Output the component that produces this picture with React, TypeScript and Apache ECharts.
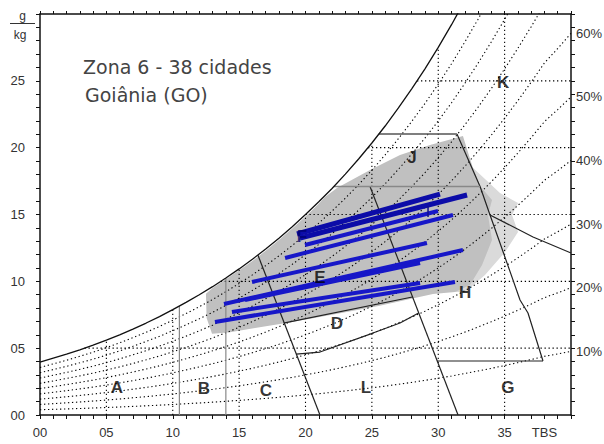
import React, { useEffect, useRef } from 'react';
import * as echarts from 'echarts';

// Saturation humidity ratio (g/kg), by dry-bulb temperature (°C)
const SAT_T = [0,1,2,3,4,5,6,7,8,9,10,11,12,13,14,15,16,17,18,19,20,21,22,23,24,25,26,27,28,29,30,31,32,33,34,35,36,37,38,39,40];
const SAT_W = [3.95,4.25,4.55,4.88,5.22,5.6,6.0,6.43,6.88,7.36,7.88,8.43,9.0,9.6,10.25,10.93,11.65,12.42,13.23,14.09,15.0,15.95,16.95,18.02,19.15,20.35,21.62,22.97,24.4,25.9,27.5,29.2,31.0,32.9,34.9,37.0,39.2,41.5,43.9,45.7,47.6];

const RH_LEVELS = [10,20,30,40,50,60,70,80,90];
const RH_LABELS = ['10%','20%','30%','40%','50%','60%'];
const GRID_T = [5,10,15,20,25,30,35];
const GRID_W = [5,10,15,20,25];

// Zone boundaries [T, W]
const LINE_C = [[16.42,11.95],[21.09,0]];
const LINE_D_TOP = [[18.35,6.88],[28.05,8.83]];
const LINE_D_L = [[19.3,4.56],[21.09,4.71],[25.08,6.13],[27.12,6.88],[28.52,7.63]];
const LINE_H_LEFT = [[24.86,17.1],[31.49,0]];
const LINE_K = [[31.41,21.02],[33.15,17.1],[33.9,14.96],[34.65,12.87],[36.16,8.6],[36.76,7.63],[37.89,4.04]];
const LINE_G_TOP = [[29.92,4.04],[37.89,4.04]];
const LINE_RIGHT = [[33.9,14.96],[37.14,13.32],[40,12.12]];
const J_TOP_W = 21.02;
const J_TOP_END = 31.41;
const J_BOTTOM_W = 17.1;
const J_BOTTOM_END = 33.15;
const ZONE_A_T = 10.5;
const ZONE_B_T = 14;

// Climate data cloud (gray) and lighter streaks
const CLOUD = [[12.5,9.08],[13,9.5],[14,10.15],[15,10.82],[16,11.53],[17,12.28],[18,13.1],[19,13.95],[20,14.85],[21,15.8],[21.47,16.3],[22.37,16.98],[24.86,18.33],[27.12,19.45],[29.38,20.2],[31.86,20.87],[32.54,18.7],[33.15,17.13],[34.05,16.08],[33.75,14.96],[34.05,13.09],[33.3,11.22],[32.39,9.73],[31.26,9.2],[29.6,9.05],[28.05,8.72],[25.5,8.15],[22.6,7.62],[20.34,7.2],[18.3,6.84],[16.2,6.5],[14.31,6.2],[12.96,6.08],[12.55,7.26]];
const CLOUD_LIGHT = [[32.39,18.7],[34.65,16.61],[36.01,15.86],[35.56,14.96],[36.01,13.69],[35.03,12.19],[33.52,10.47],[32.02,9.2],[31.26,9.2],[32.39,16.08]];

// Daily climate lines (blue)
const DAY_LINES = [
  [[19.36,13.54],[30.13,16.53]],
  [[19.59,13.24],[32.17,16.46]],
  [[19.96,12.72],[29.98,15.26]],
  [[18.46,11.75],[31.11,14.96]],
  [[15.97,9.95],[29.15,12.87]],
  [[13.86,8.3],[31.86,12.34]],
  [[15.44,8.6],[28.63,11.37]],
  [[13.18,6.96],[31.26,9.95]],
  [[14.46,7.71],[28.63,9.88]],
];
const DAY_TICK = [[29.23,15.63],[29.23,14.81]];

const ZONES = [
  [5.8,2.02,'A'],[12.35,1.95,'B'],[17.02,1.8,'C'],[22.37,6.88,'D'],[21.09,10.32,'E'],
  [35.25,2.02,'G'],[32.02,9.13,'H'],[28.02,19.23,'J'],[34.88,24.91,'K'],[24.56,2.02,'L'],
];
const ZONE_F = [[19.74,13.39,'F']];

function wsAt(t: number): number {
  for (let i = 0; i < SAT_T.length - 1; i++) {
    if (t >= SAT_T[i] && t <= SAT_T[i + 1]) {
      const f = (t - SAT_T[i]) / (SAT_T[i + 1] - SAT_T[i]);
      return SAT_W[i] + f * (SAT_W[i + 1] - SAT_W[i]);
    }
  }
  return SAT_W[SAT_W.length - 1];
}
function tAt(w: number): number {
  for (let i = 0; i < SAT_W.length - 1; i++) {
    if (w >= SAT_W[i] && w <= SAT_W[i + 1]) {
      const f = (w - SAT_W[i]) / (SAT_W[i + 1] - SAT_W[i]);
      return SAT_T[i] + f * (SAT_T[i + 1] - SAT_T[i]);
    }
  }
  return 0;
}

const pad2 = (v: number) => (v < 10 ? '0' + v : '' + v);
const FONT = 'Liberation Sans';

function line(data: any[], color: string, width: number, type: any, z: number, extra: any = {}) {
  return {
    type: 'line', data, symbol: 'none', showSymbol: false, silent: true,
    lineStyle: { color, width, type }, z, animation: false, ...extra,
  };
}

function polygon(points: number[][], fill: string, z: number) {
  return {
    type: 'custom', silent: true, z, data: [[0, 0]],
    renderItem: (_p: any, api: any) => ({
      type: 'polygon',
      shape: { points: points.map((p) => api.coord(p)) },
      style: { fill },
    }),
  };
}

export default function App() {
  const ref = useRef<HTMLDivElement>(null);
  useEffect(() => {
    if (!ref.current) return;
    const chart = echarts.init(ref.current, null, { renderer: 'svg' });
    const series: any[] = [];
    series.push(polygon(CLOUD_LIGHT, '#dadada', 1));
    series.push(polygon(CLOUD, '#c0c0c0', 1));

    const DOT = [1.3, 2.7];
    const DOTC = '#000';
    RH_LEVELS.forEach((rh) => {
      const data = SAT_T.map((t, i) => [t, (rh / 100) * SAT_W[i]]);
      const lbl = RH_LABELS.indexOf(rh + '%') >= 0;
      series.push(line(data, DOTC, 1.1, DOT, 3, lbl ? {
        endLabel: { show: true, formatter: rh + '%', distance: 5, color: '#333', fontSize: 13, fontFamily: FONT },
      } : {}));
    });
    GRID_T.forEach((t) => series.push(line([[t, 0], [t, wsAt(t)]], DOTC, 1.1, DOT, 3)));
    GRID_W.forEach((w) => series.push(line([[tAt(w), w], [40, w]], DOTC, 1.1, DOT, 3)));

    const dark = '#222';
    series.push(line([[ZONE_A_T, 0], [ZONE_A_T, wsAt(ZONE_A_T)]], '#888', 1.2, 'solid', 4));
    series.push(line([[ZONE_B_T, 0], [ZONE_B_T, wsAt(ZONE_B_T)]], '#888', 1.2, 'solid', 4));
    series.push(line(LINE_C, dark, 1.2, 'solid', 4));
    series.push(line(LINE_D_TOP, dark, 1.2, 'solid', 4));
    series.push(line(LINE_D_L, dark, 1.2, 'solid', 4));
    series.push(line(LINE_H_LEFT, dark, 1.2, 'solid', 4));
    series.push(line(LINE_K, dark, 1.2, 'solid', 4));
    series.push(line(LINE_G_TOP, dark, 1.2, 'solid', 4));
    series.push(line(LINE_RIGHT, dark, 1.2, 'solid', 4));
    series.push(line([[tAt(J_TOP_W), J_TOP_W], [J_TOP_END, J_TOP_W]], '#555', 1.5, 'solid', 4));
    series.push(line([[tAt(J_BOTTOM_W), J_BOTTOM_W], [J_BOTTOM_END, J_BOTTOM_W]], '#888', 1.5, 'solid', 4));
    series.push(line(SAT_T.map((t, i) => [t, SAT_W[i]]), '#111', 1.3, 'solid', 5));

    DAY_LINES.forEach((d, i) => series.push(line(d, i < 2 ? '#0c0ca8' : '#1717c8', i < 2 ? 5 : 4, 'solid', 6)));
    series.push(line(DAY_TICK, '#10108a', 1.5, 'solid', 6));

    series.push({
      type: 'scatter', data: ZONES, symbolSize: 0, silent: true, z: 7,
      label: { show: true, position: 'inside', formatter: (p: any) => p.data[2], color: '#000', fontWeight: 'bold', fontSize: 17, fontFamily: FONT },
    });
    series.push({
      type: 'scatter', data: ZONE_F, symbolSize: 0, silent: true, z: 7,
      label: { show: true, position: 'inside', formatter: (p: any) => p.data[2], color: '#000070', fontWeight: 'bold', fontSize: 17, fontFamily: FONT },
    });

    const axisLine = { onZero: false, lineStyle: { color: '#111', width: 1.5 } };
    chart.setOption({
      animation: false,
      grid: { left: 40, right: 33, top: 14, bottom: 29 },
      xAxis: [
        {
          type: 'value', min: 0, max: 40, interval: 1, position: 'bottom', axisLine,
          axisTick: { length: 4, lineStyle: { color: '#111' } }, splitLine: { show: false },
          axisLabel: {
            margin: 11, color: '#333', fontSize: 13, fontFamily: FONT,
            formatter: (v: number) => (v % 5 === 0 && v <= 35 ? pad2(v) : v === 38 ? 'TBS' : ''),
          },
        },
        {
          type: 'value', min: 0, max: 40, interval: 1, position: 'top', axisLine,
          axisTick: { length: 3, lineStyle: { color: '#111' } }, splitLine: { show: false }, axisLabel: { show: false },
        },
      ],
      yAxis: [
        {
          type: 'value', min: 0, max: 30, interval: 1, position: 'left', axisLine,
          axisTick: { length: 4, lineStyle: { color: '#111' } }, splitLine: { show: false },
          axisLabel: {
            margin: 15, color: '#333', fontSize: 13, fontFamily: FONT,
            formatter: (v: number) => (v % 5 === 0 && v < 30 ? pad2(v) : ''),
          },
        },
        {
          type: 'value', min: 0, max: 30, interval: 1, position: 'right', axisLine,
          axisTick: { length: 4, lineStyle: { color: '#111' } }, splitLine: { show: false }, axisLabel: { show: false },
        },
      ],
      graphic: [
        { type: 'text', x: 83, y: 67, style: { text: 'Zona 6 - 38 cidades', font: '19px "DejaVu Sans"', fill: '#444', textVerticalAlign: 'middle' } },
        { type: 'text', x: 85, y: 95, style: { text: 'Goiânia (GO)', font: '19px "DejaVu Sans"', fill: '#444', textVerticalAlign: 'middle' } },
        { type: 'text', x: 22.5, y: 16, style: { text: 'g', font: '12px "Liberation Sans"', fill: '#333', textAlign: 'center', textVerticalAlign: 'middle' } },
        { type: 'line', shape: { x1: 10, y1: 23.5, x2: 35, y2: 23.5 }, style: { stroke: '#333', lineWidth: 1 } },
        { type: 'text', x: 20, y: 35, style: { text: 'kg', font: '12px "Liberation Sans"', fill: '#333', textAlign: 'center', textVerticalAlign: 'middle' } },
      ],
      series,
    });
    return () => chart.dispose();
  }, []);
  return <div ref={ref} style={{ position: 'fixed', left: 0, top: 0, width: 604, height: 444, background: '#fff' }} />;
}
